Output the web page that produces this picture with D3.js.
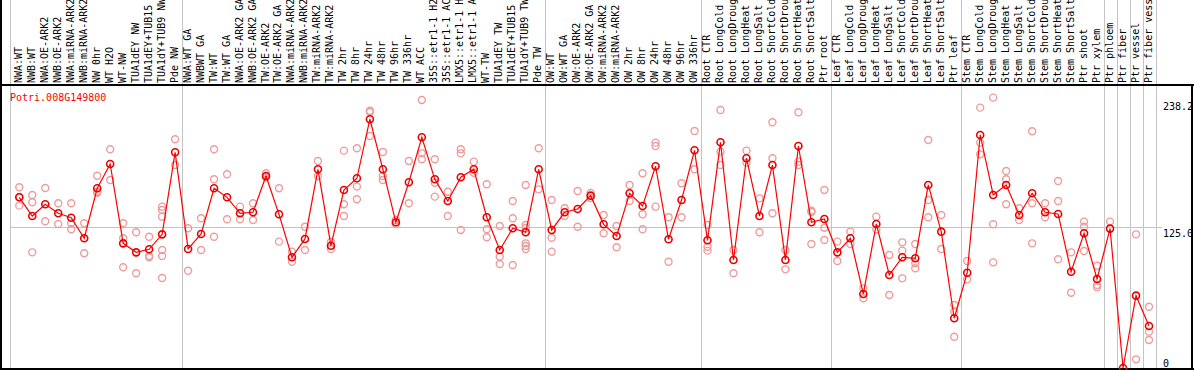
<!DOCTYPE html>
<html>
<head>
<meta charset="utf-8">
<script src="https://cdn.jsdelivr.net/npm/d3@7"></script>
<style>
  body { margin: 0; background: #fff; }
  svg { display: block; font-family: "DejaVu Sans Mono", monospace; }
</style>
</head>
<body>
<div class="chart"></div>
<script>
const geneName = "Potri.008G149800"

const categories = [
    "NWA:WT", "NWB:WT", "NWA:OE-ARK2", "NWB:OE-ARK2", "NWA:miRNA-ARK2", "NWB:miRNA-ARK2",
    "NW 0hr", "WT H2O", "WT-NW", "TUA1dEY NW", "TUA1dEY+TUB15 NW", "TUA1dY+TUB9 NW", "Pde NW",
    "NWA:WT GA", "NWBWT GA", "TW:WT", "TW:WT GA", "NWA:OE-ARK2 GA", "NWB:OE-ARK2 GA",
    "TW:OE-ARK2", "TW:OE-ARK2 GA", "NWA:miRNA-ARK2 GA", "NWB:miRNA-ARK2 GA", "TW:miRNA-ARK2",
    "TW:miRNA-ARK2 GA", "TW 2hr", "TW 8hr", "TW 24hr", "TW 48hr", "TW 96hr", "TW 336hr",
    "WT ACC", "35S::etr1-1 H2O", "35S::etr1-1 ACC", "LMX5::etr1-1 H2O", "LMX5::etr1-1 ACC",
    "WT-TW", "TUA1dEY TW", "TUA1dEY+TUB15 TW", "TUA1dY+TUB9 TW", "Pde TW",
    "OW:WT", "OW:WT GA", "OW:OE-ARK2", "OW:OE-ARK2 GA", "OW:miRNA-ARK2", "OW:miRNA-ARK2 GA",
    "OW 2hr", "OW 8hr", "OW 24hr", "OW 48hr", "OW 96hr", "OW 336hr",
    "Root CTR", "Root LongCold", "Root LongDrought", "Root LongHeat", "Root LongSalt",
    "Root ShortCold", "Root ShortDrought", "Root ShortHeat", "Root ShortSalt", "Ptr root",
    "Leaf CTR", "Leaf LongCold", "Leaf LongDrought", "Leaf LongHeat", "Leaf LongSalt",
    "Leaf ShortCold", "Leaf ShortDrought", "Leaf ShortHeat", "Leaf ShortSalt", "Ptr leaf",
    "Stem CTR", "Stem LongCold", "Stem LongDrought", "Stem LongHeat", "Stem LongSalt",
    "Stem ShortCold", "Stem ShortDrought", "Stem ShortHeat", "Stem ShortSalt",
    "Ptr shoot", "Ptr xylem", "Ptr phloem", "Ptr fiber", "Ptr vessel", "Ptr fiber vessel"
]

const means = [
    151.7, 135.1, 145.5, 137.5, 133.6, 115.3, 159.7, 181.3, 110.8, 102.8, 105.5, 118.8, 191.7,
    105.8, 119.1, 159.7, 151.7, 137.5, 138.4, 170.7, 136.6, 98.4, 114.7, 176.6, 108.7,
    158.2, 168.6, 221.1, 176.6, 129.5, 165.1, 205.1, 167.7, 148.4, 169.5, 176.6,
    134.0, 104.9, 124.2, 120.6, 176.6,
    122.7, 138.4, 141.3, 153.2, 127.7, 117.3, 155.3, 144.0, 179.3, 114.4, 149.3, 193.5,
    113.5, 200.6, 96.0, 186.4, 135.1, 180.4, 96.0, 197.3, 129.5, 132.4,
    102.8, 115.3, 65.8, 128.0, 82.7, 98.4, 97.5, 162.7, 121.2, 44.2,
    84.7, 207.1, 153.8, 162.7, 136.0, 155.3, 138.4, 136.9, 85.6,
    119.7, 79.1, 123.9, 0, 64.3, 37.3
]

const replicates = [
    [160.6, 144.3, 152.0], [153.8, 147.3, 102.8], [160.0, 130.4], [146.4, 128.0],
    [146.4, 128.6, 123.3], [128.6, 102.0], [170.9, 156.7, 155.8], [194.4, 167.1],
    [128.6, 115.3, 89.5], [120.6, 84.2], [116.7, 99.6, 98.4],
    [143.4, 140.4, 134.5, 104.9, 99.6, 80.0], [203.3, 180.4],
    [124.2, 86.5], [133.1, 104.9], [194.4, 167.7, 116.7], [172.2, 132.2], [143.4, 132.2],
    [146.4, 131.6], [173.1, 169.5], [159.7, 112.3], [103.4, 94.5], [125.6, 104.9],
    [184.0, 170.7], [112.0, 105.8], [193.2, 145.5, 135.1], [195.3, 161.2, 150.0],
    [228.7, 227.5, 206.2], [192.0, 170.7, 167.1], [131.6, 128.0], [184.0, 146.4],
    [238.2, 190.8, 185.5], [185.5, 164.7, 152.3], [156.7, 135.1], [194.4, 190.8, 122.7],
    [183.4, 173.6], [163.3, 123.3, 116.2], [126.2, 98.9, 92.4], [148.4, 133.1, 91.6],
    [162.7, 127.1, 124.4, 110.8, 108.4, 105.8], [195.3, 158.8],
    [149.3, 115.8, 103.4], [142.0, 135.1], [157.3, 125.6], [155.6, 151.1], [136.0, 119.7],
    [126.2, 107.3], [162.7, 148.4], [173.1, 136.6, 123.3], [200.3, 197.3, 143.4],
    [134.0, 94.5], [164.2, 134.0], [210.7, 176.6],
    [127.1, 107.8, 104.3], [229.3, 192.3, 180.4], [104.9, 84.2], [193.2, 182.5],
    [150.8, 120.6], [218.4, 186.4, 137.5], [104.9, 87.7], [227.3, 183.4, 180.4],
    [139.8, 138.7, 110.2], [158.2, 124.7, 113.8],
    [112.3, 95.1], [121.2, 110.2], [70.8, 62.0], [134.5, 123.3], [100.4, 64.9],
    [111.7, 104.3, 79.7], [110.2, 93.1, 88.6], [202.7, 149.3, 134.0], [136.0, 105.8],
    [56.0, 50.0, 27.8],
    [95.1, 78.8], [231.4, 200.3, 190.0], [240.3, 127.7, 93.9], [175.1, 167.7, 145.5],
    [142.0, 131.6], [210.4, 146.4, 110.8], [146.4, 134.0], [166.2, 148.4, 96.6],
    [102.8, 66.9],
    [130.1, 125.6, 104.0], [90.9, 73.8, 71.7], [130.1], [], [118.8, 7.7], [54.5, 32.3, 24.9]
]

// a grey separator is drawn after each of these samples
const groupEnds = ["Pde NW", "Pde TW", "OW 336hr", "Ptr root", "Ptr leaf",
    "Ptr xylem", "Ptr phloem", "Ptr fiber", "Ptr vessel", "Ptr fiber vessel"]

const tickValues = [0, 125, 238.2]
const tickLabels = ["0", "125.0", "238.2"]

const width = 1194
const height = 370

const svg = d3.select(".chart")
    .append("svg")
    .attr("width", width)
    .attr("height", height)

const x = d3.scaleBand()
    .domain(categories)
    .range([12.8, 1155.5])

const y = d3.scaleLinear()
    .domain([0, 238.2])
    .range([368, 100])

const cx = d => x(d) + x.bandwidth() / 2

// left edge of the plot
svg.append("line")
    .attr("x1", 10.5).attr("x2", 10.5)
    .attr("y1", 0).attr("y2", 368)
    .style("stroke", "#c4c4c4")

// group separators
svg.selectAll("line.sep")
    .data(groupEnds)
    .enter().append("line")
    .attr("class", "sep")
    .attr("x1", d => Math.round(x(d) + x.bandwidth()) + 0.5)
    .attr("x2", d => Math.round(x(d) + x.bandwidth()) + 0.5)
    .attr("y1", 0)
    .attr("y2", 368)
    .style("stroke", "#c4c4c4")

// grid line at the middle tick
svg.append("line")
    .attr("x1", 10)
    .attr("x2", 1162)
    .attr("y1", Math.round(y(tickValues[1])) + 0.5)
    .attr("y2", Math.round(y(tickValues[1])) + 0.5)
    .style("stroke", "#c4c4c4")

// frame
svg.append("rect").attr("x", 0).attr("y", 0).attr("width", 2).attr("height", height).style("fill", "#000")
svg.append("rect").attr("x", 0).attr("y", 84).attr("width", width).attr("height", 2).style("fill", "#000")
svg.append("rect").attr("x", 0).attr("y", 368).attr("width", width).attr("height", 2).style("fill", "#000")
svg.append("rect").attr("x", 1191).attr("y", 84).attr("width", 2).attr("height", height - 84).style("fill", "#000")

// sample names, rotated
svg.selectAll("text.sample")
    .data(categories)
    .enter().append("text")
    .attr("class", "sample")
    .attr("transform", d => `translate(${cx(d) + 2.5},83) rotate(-90)`)
    .style("font-size", "10px")
    .style("fill", "#000")
    .text(d => d)

// right axis
svg.append("g")
    .attr("transform", "translate(1163,0)")
    .call(d3.axisRight(y)
        .tickValues(tickValues)
        .tickFormat((d, i) => tickLabels[i])
        .tickSize(0)
        .tickPadding(0))
    .call(g => g.select(".domain").remove())
    .selectAll("text")
    .style("font-size", "10px")
    .style("font-family", "DejaVu Sans Mono, monospace")
    .style("fill", "#000")
    .attr("dy", d => d === 0 ? "-2px" : "9px")

// replicate points
const reps = []
replicates.forEach((r, i) => r.forEach(v => reps.push({ cat: categories[i], value: v })))

svg.selectAll("circle.rep")
    .data(reps)
    .enter().append("circle")
    .attr("class", "rep")
    .attr("cx", d => cx(d.cat))
    .attr("cy", d => y(d.value))
    .attr("r", 3.5)
    .style("fill", "none")
    .style("stroke", "#ee9c9c")
    .style("stroke-width", 1.4)

// mean line
const line = d3.line()
    .x((d, i) => cx(categories[i]))
    .y(d => y(d))

svg.append("path")
    .datum(means)
    .attr("d", line)
    .style("fill", "none")
    .style("stroke", "#ff0000")
    .style("stroke-width", 1.2)

svg.selectAll("circle.mean")
    .data(means)
    .enter().append("circle")
    .attr("class", "mean")
    .attr("cx", (d, i) => cx(categories[i]))
    .attr("cy", d => y(d))
    .attr("r", 3.5)
    .style("fill", "none")
    .style("stroke", "#e80000")
    .style("stroke-width", 1.6)

svg.append("text")
    .attr("x", 10)
    .attr("y", 101)
    .style("font-size", "10px")
    .style("fill", "#ff0000")
    .text(geneName)
</script>
</body>
</html>
